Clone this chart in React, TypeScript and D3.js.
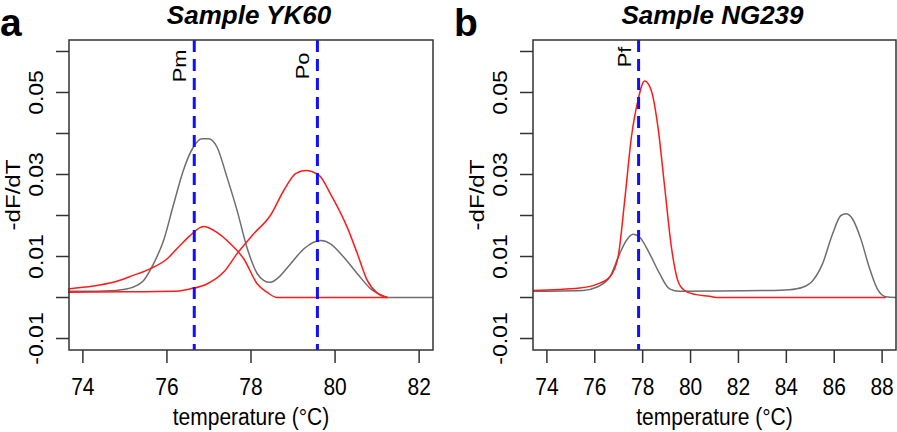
import React from "react";
import * as d3 from "d3";

// ---- Data ----
const yTicks = [-0.01, 0, 0.01, 0.02, 0.03, 0.04, 0.05, 0.06];
const yTickLabels = ["-0.01", "", "0.01", "", "0.03", "", "0.05", ""];
const xTicksA = [74, 76, 78, 80, 82];
const xTicksB = [74, 76, 78, 80, 82, 84, 86, 88];

const grayA_T = [73.65, 74.5, 75.04, 75.3, 75.44, 75.68, 75.92, 76.16, 76.39, 76.63, 76.83, 76.99, 77.19, 77.43, 77.67, 77.91, 78.15, 78.3, 78.45, 78.62, 78.94, 79.26, 79.66, 79.89, 80.21, 80.53, 80.85, 81.17, 81.25, 82.33];
const grayA_V = [0.0015, 0.0016, 0.0021, 0.003, 0.0041, 0.0082, 0.0139, 0.0228, 0.031, 0.0367, 0.0387, 0.0387, 0.0367, 0.0293, 0.0212, 0.012, 0.0058, 0.0042, 0.0037, 0.0046, 0.0082, 0.0119, 0.0139, 0.0131, 0.0098, 0.0058, 0.0021, 0.0003, 0, 0];

const redPmA_T = [73.65, 74.25, 74.72, 75.2, 75.6, 76.0, 76.31, 76.55, 76.87, 77.19, 77.51, 77.83, 78.15, 78.38, 78.62, 81.25];
const redPmA_V = [0.0021, 0.0028, 0.0037, 0.0054, 0.007, 0.0094, 0.0127, 0.0151, 0.0173, 0.0159, 0.0131, 0.0094, 0.0033, 0.0013, 0, 0];

const redPoA_T = [73.65, 75.0, 76.16, 76.55, 76.95, 77.35, 77.67, 78.06, 78.46, 78.78, 79.06, 79.3, 79.62, 79.89, 80.29, 80.53, 80.77, 81.01, 81.25];
const redPoA_V = [0.0013, 0.0014, 0.0015, 0.0021, 0.0033, 0.0062, 0.0107, 0.0155, 0.02, 0.0261, 0.0302, 0.031, 0.0298, 0.0253, 0.0171, 0.0107, 0.0041, 0.001, 0];

const redB_T = [73.42, 75.375, 76.07, 76.625, 76.97, 77.25, 77.53, 77.8, 78.08, 78.36, 78.64, 78.92, 79.2, 79.47, 79.75, 80.24, 80.79, 81.07, 88.15];
const redB_V = [0.0017, 0.0023, 0.0032, 0.005, 0.0098, 0.0237, 0.0391, 0.048, 0.0528, 0.0505, 0.0415, 0.0269, 0.0123, 0.0041, 0.0017, 0.0007, 0.0003, 0, 0];

const grayB_T = [73.42, 75.5, 76.07, 76.625, 77.04, 77.32, 77.6, 77.875, 78.29, 78.71, 79.125, 79.54, 83.15, 84.125, 84.68, 85.1, 85.51, 85.93, 86.28, 86.49, 86.76, 87.11, 87.46, 87.8, 88.15, 88.58];
const grayB_V = [0.0015, 0.0017, 0.0025, 0.005, 0.0107, 0.0139, 0.0154, 0.0147, 0.0107, 0.0058, 0.0021, 0.0015, 0.0017, 0.0019, 0.0025, 0.0041, 0.0082, 0.0155, 0.02, 0.0204, 0.0192, 0.0143, 0.0074, 0.0021, 0.0002, 0];

const markersA = [{ t: 76.65, label: "Pm" }, { t: 79.58, label: "Po" }];
const markersB = [{ t: 77.83, label: "Pf" }];

const FONT = "'Liberation Sans', Arial, Helvetica, sans-serif";
const SY = 1.15;
const BLUE = "#1010ff";
const RED = "#ff1a1a";
const GRAY = "#6e6e6e";

type Series = { t: number[]; v: number[]; color: string };

function Panel(props: {
  left: number;
  right: number;
  xDomain: [number, number];
  xTicks: number[];
  series: Series[];
  markers: { t: number; label: string }[];
  markerLabelY: number;
  title: string;
  letter: string;
  letterX: number;
}) {
  const top = 40, bottom = 350;
  const x = d3.scaleLinear().domain(props.xDomain).range([props.left, props.right]);
  const y = d3.scaleLinear().domain([-0.0128, 0.0628]).range([bottom, top]);
  const line = d3.line<[number, number]>().x((d) => x(d[0])).y((d) => y(d[1])).curve(d3.curveMonotoneX);
  const cx = (props.left + props.right) / 2;
  const cy = (top + bottom) / 2;
  return (
    <g>
      <text x={props.letterX} y={36} fontFamily={FONT} fontWeight="bold" fontSize={39} fill="#000">{props.letter}</text>
      <text x={cx - 2} y={24} fontFamily={FONT} fontWeight="bold" fontStyle="italic" fontSize={26} textAnchor="middle" fill="#000">{props.title}</text>
      {props.series.map((s, i) => (
        <path key={i} d={line(s.t.map((t, j) => [t, s.v[j]] as [number, number])) || ""} fill="none" stroke={s.color} strokeWidth={1.5} />
      ))}
      {props.markers.map((m, i) => (
        <g key={i}>
          <line x1={x(m.t)} x2={x(m.t)} y1={top} y2={bottom} stroke={BLUE} strokeWidth={3} strokeDasharray="12,7" />
          <text transform={`translate(${x(m.t) - 8},${props.markerLabelY}) scale(1,${SY}) rotate(-90)`} fontFamily={FONT} fontSize={19} textAnchor="middle" fill="#000">{m.label}</text>
        </g>
      ))}
      <rect x={props.left} y={top} width={props.right - props.left} height={bottom - top} fill="none" stroke="#333" strokeWidth={1.5} />
      {yTicks.map((t, i) => (
        <g key={i}>
          <line x1={props.left - 13} x2={props.left} y1={y(t)} y2={y(t)} stroke="#333" strokeWidth={1.5} />
          {yTickLabels[i] && (
            <text transform={`translate(${props.left - 26},${y(t)}) scale(1,${SY}) rotate(-90)`} fontFamily={FONT} fontSize={20} textAnchor="middle" fill="#000">{yTickLabels[i]}</text>
          )}
        </g>
      ))}
      {props.xTicks.map((t, i) => (
        <g key={i}>
          <line x1={x(t)} x2={x(t)} y1={bottom} y2={bottom + 13} stroke="#333" strokeWidth={1.5} />
          <text transform={`translate(${x(t)},395) scale(1,${SY})`} fontFamily={FONT} fontSize={21} textAnchor="middle" fill="#000">{t}</text>
        </g>
      ))}
      <text transform={`translate(${cx},425) scale(1,${SY})`} fontFamily={FONT} fontSize={21} textAnchor="middle" fill="#000">temperature (°C)</text>
      <text transform={`translate(${props.left - 49},${cy}) scale(1,${SY}) rotate(-90)`} fontFamily={FONT} fontSize={21} textAnchor="middle" fill="#000">-dF/dT</text>
    </g>
  );
}

export default function App() {
  return (
    <svg width={897} height={432} style={{ position: "absolute", left: 0, top: 0, background: "#fff" }}>
      <rect x={0} y={0} width={897} height={432} fill="#fff" />
      <Panel
        left={69}
        right={433}
        xDomain={[73.67, 82.33]}
        xTicks={xTicksA}
        series={[
          { t: grayA_T, v: grayA_V, color: GRAY },
          { t: redPmA_T, v: redPmA_V, color: RED },
          { t: redPoA_T, v: redPoA_V, color: RED },
        ]}
        markers={markersA}
        markerLabelY={66}
        title="Sample YK60"
        letter="a"
        letterX={0}
      />
      <Panel
        left={533}
        right={896}
        xDomain={[73.42, 88.58]}
        xTicks={xTicksB}
        series={[
          { t: grayB_T, v: grayB_V, color: GRAY },
          { t: redB_T, v: redB_V, color: RED },
        ]}
        markers={markersB}
        markerLabelY={57}
        title="Sample NG239"
        letter="b"
        letterX={454}
      />
    </svg>
  );
}
